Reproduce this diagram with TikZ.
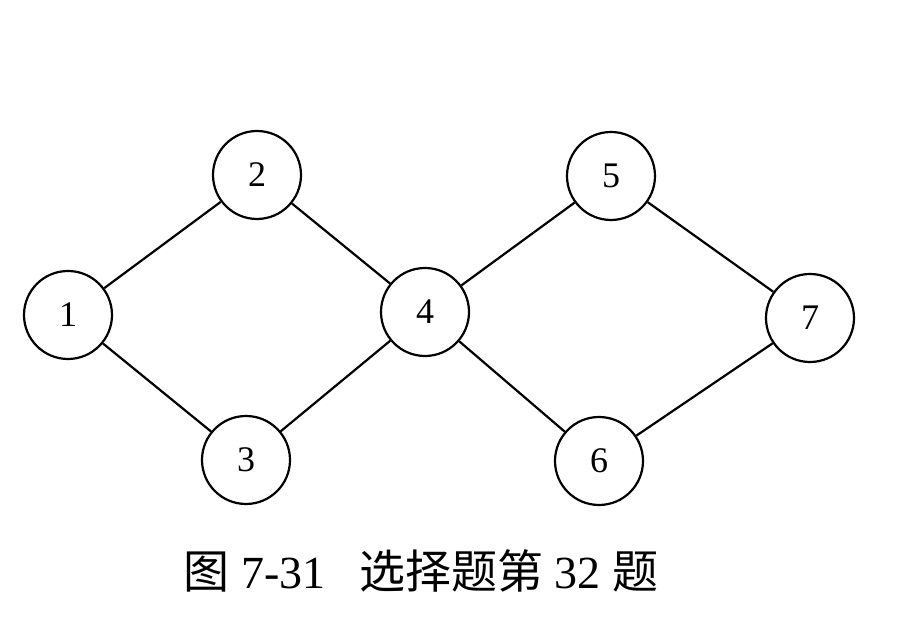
\documentclass[tikz,border=0pt]{standalone}
\usepackage{fontspec}
\setmainfont{Liberation Serif}
\newfontfamily\cjk{Noto Sans CJK SC}
\begin{document}
\begin{tikzpicture}[x=1pt,y=1pt,
  vtx/.style={circle,draw,line width=2.2pt,minimum size=88pt,inner sep=0pt,font=\fontsize{36}{36}\selectfont},
  edge/.style={line width=2.2pt}]
\useasboundingbox (0,0) rectangle (897,617);
\node[vtx] (n1) at (68,302) {1};
\node[vtx] (n2) at (257,442) {2};
\node[vtx] (n3) at (246,157) {3};
\node[vtx] (n4) at (425,305) {4};
\node[vtx] (n5) at (611,441) {5};
\node[vtx] (n6) at (599,156) {6};
\node[vtx] (n7) at (810,299) {7};
\draw[edge] (n1) -- (n2);
\draw[edge] (n1) -- (n3);
\draw[edge] (n2) -- (n4);
\draw[edge] (n3) -- (n4);
\draw[edge] (n4) -- (n5);
\draw[edge] (n4) -- (n6);
\draw[edge] (n5) -- (n7);
\draw[edge] (n6) -- (n7);
\node (cap) at (421,46) {\fontsize{46}{46}\selectfont{\cjk 图} 7-31\hspace{34pt}{\cjk 选择题第} 32 {\cjk 题}};
\end{tikzpicture}
\end{document}
